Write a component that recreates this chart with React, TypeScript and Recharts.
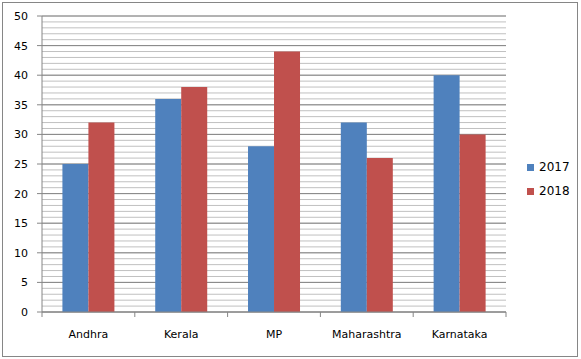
import React from 'react';
import {
  BarChart,
  Bar,
  XAxis,
  YAxis,
  CartesianGrid,
} from 'recharts';

const states = ['Andhra', 'Kerala', 'MP', 'Maharashtra', 'Karnataka'];
const values2017 = [25, 36, 28, 32, 40];
const values2018 = [32, 38, 44, 26, 30];
const majorTicks = [0, 5, 10, 15, 20, 25, 30, 35, 40, 45, 50];
const minorTicks = Array.from({ length: 51 }, (_, i) => i);

const data = states.map((name, i) => ({
  name,
  y2017: values2017[i],
  y2018: values2018[i],
}));

const W = 581;
const H = 359;
const xAxisHeight = 30;
const margin = { top: 16, right: 75, left: 0, bottom: 47 - xAxisHeight };
const yAxisWidth = 42;
const plotWidth = W - margin.left - margin.right - yAxisWidth;
const step = plotWidth / states.length;

const font = '"DejaVu Sans", sans-serif';
const axisGrey = '#868686';

const CategoryTick = (props: any) => {
  const { x, y, payload, index } = props;
  return (
    <g>
      {index === 0 && (
        <line x1={x - step / 2} x2={x - step / 2} y1={y} y2={y + 5} stroke={axisGrey} />
      )}
      <line x1={x + step / 2} x2={x + step / 2} y1={y} y2={y + 5} stroke={axisGrey} />
      <text x={x} y={y + 26} textAnchor="middle" fontSize={11} fill="#000" fontFamily={font}>
        {payload.value}
      </text>
    </g>
  );
};

const legendItems = [
  { label: '2017', color: '#4F81BD' },
  { label: '2018', color: '#C0504D' },
];

export default function App() {
  return (
    <div style={{ position: 'absolute', left: 0, top: 0, width: W, height: H, background: '#fff' }}>
      <div
        style={{
          position: 'absolute',
          left: 2,
          top: 2,
          width: 576,
          height: 355,
          border: `1px solid ${axisGrey}`,
          boxSizing: 'border-box',
        }}
      />
      <div
        style={{
          position: 'absolute',
          left: 527,
          top: 155,
          fontFamily: font,
          fontSize: 12,
          color: '#000',
        }}
      >
        {legendItems.map((it) => (
          <div key={it.label} style={{ display: 'flex', alignItems: 'center', height: 24 }}>
            <span style={{ width: 7, height: 7, background: it.color, marginRight: 5 }} />
            <span>{it.label}</span>
          </div>
        ))}
      </div>
      <BarChart
        width={W}
        height={H}
        data={data}
        margin={margin}
        barCategoryGap="22%"
        barGap={0}
      >
        <CartesianGrid vertical={false} stroke="#c0c0c0" horizontalValues={minorTicks} />
        <CartesianGrid vertical={false} stroke={axisGrey} />
        <XAxis
          dataKey="name"
          height={xAxisHeight}
          axisLine={{ stroke: axisGrey }}
          tickLine={false}
          tickSize={0}
          tickMargin={0}
          interval={0}
          tick={<CategoryTick />}
        />
        <YAxis
          width={yAxisWidth}
          domain={[0, 50]}
          ticks={majorTicks}
          interval={0}
          axisLine={{ stroke: axisGrey }}
          tickLine={{ stroke: axisGrey }}
          tickSize={5}
          tickMargin={9}
          tick={{ fill: '#000', fontSize: 11, fontFamily: font }}
        />
        <Bar dataKey="y2017" name="2017" fill="#4F81BD" isAnimationActive={false} />
        <Bar dataKey="y2018" name="2018" fill="#C0504D" isAnimationActive={false} />
      </BarChart>
    </div>
  );
}
